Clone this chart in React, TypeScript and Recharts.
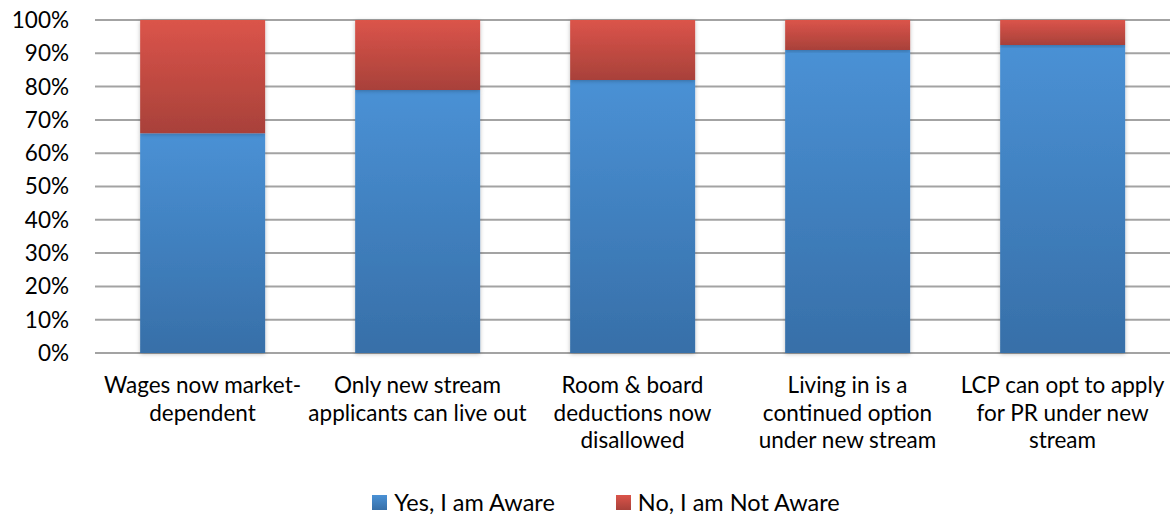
import React from 'react';
import { BarChart, Bar, XAxis, YAxis, CartesianGrid, Legend } from 'recharts';

const categories = [
  'Wages now market-\ndependent',
  'Only new stream\napplicants can live out',
  'Room & board\ndeductions now\ndisallowed',
  'Living in is a\ncontinued option\nunder new stream',
  'LCP can opt to apply\nfor PR under new\nstream',
];
const aware = [66, 79, 82, 91, 92.5];
const notAware = [34, 21, 18, 9, 7.5];
const yTicks = [0, 10, 20, 30, 40, 50, 60, 70, 80, 90, 100];
const seriesNames = ['Yes, I am Aware', 'No, I am Not Aware'];
const seriesFills = ['url(#blueGrad)', 'url(#redGrad)'];

const data = categories.map((name, i) => ({
  name,
  aware: aware[i],
  notAware: notAware[i],
}));

const FONT = 'Lato, "Open Sans", sans-serif';
const FS = 22.5;

const CategoryTick = ({ x, y, payload }: any) => {
  const lines = String(payload.value).split('\n');
  return (
    <text x={x} y={y} textAnchor="middle" fontFamily={FONT} fontSize={FS} fill="#000">
      {lines.map((line, i) => (
        <tspan key={i} x={x} dy={i === 0 ? 32 : 27.5}>
          {line}
        </tspan>
      ))}
    </text>
  );
};

const LegendContent = () => (
  <div
    style={{
      height: 63,
      boxSizing: 'border-box',
      paddingTop: 37,
      paddingLeft: 42,
      display: 'flex',
      justifyContent: 'center',
      fontFamily: FONT,
      fontSize: 23.5,
      color: '#000',
    }}
  >
    {seriesNames.map((n, i) => (
      <div
        key={n}
        style={{ display: 'flex', alignItems: 'center', height: 24, marginRight: i === 0 ? 61 : 0 }}
      >
        <svg width={15} height={15} style={{ marginRight: 7 }}>
          <rect width={15} height={15} fill={seriesFills[i]} />
        </svg>
        <span>{n}</span>
      </div>
    ))}
  </div>
);

export default function App() {
  return (
    <div style={{ position: 'absolute', left: 0, top: 0, background: '#fff' }}>
      <BarChart
        width={1170}
        height={516}
        data={data}
        margin={{ top: 20, right: 0, bottom: 0, left: 0 }}
        barCategoryGap="21%"
      >
        <defs>
          <linearGradient id="blueGrad" x1="0" y1="0" x2="0" y2="1">
            <stop offset="0%" stopColor="#4A91D5" />
            <stop offset="100%" stopColor="#376FA8" />
          </linearGradient>
          <linearGradient id="redGrad" x1="0" y1="0" x2="0" y2="1">
            <stop offset="0%" stopColor="#DB544A" />
            <stop offset="100%" stopColor="#A8413A" />
          </linearGradient>
          <filter id="barShadow" x="-10%" y="-10%" width="120%" height="120%">
            <feDropShadow dx="0" dy="1" stdDeviation="2" floodColor="#000" floodOpacity="0.25" />
          </filter>
        </defs>
        <CartesianGrid vertical={false} stroke="#a3a3a3" strokeWidth={2} />
        <XAxis
          dataKey="name"
          axisLine={false}
          tickLine={false}
          interval={0}
          height={100}
          tick={<CategoryTick />}
        />
        <YAxis
          domain={[0, 100]}
          ticks={yTicks}
          width={95}
          axisLine={false}
          tickLine={false}
          tickMargin={20}
          tickFormatter={(v) => `${v}%`}
          tick={{ fontFamily: FONT, fontSize: FS, fill: '#000' }}
        />
        <Legend verticalAlign="bottom" height={63} content={<LegendContent />} />
        <Bar
          dataKey="aware"
          name={seriesNames[0]}
          stackId="a"
          fill="url(#blueGrad)"
          filter="url(#barShadow)"
          isAnimationActive={false}
        />
        <Bar
          dataKey="notAware"
          name={seriesNames[1]}
          stackId="a"
          fill="url(#redGrad)"
          filter="url(#barShadow)"
          isAnimationActive={false}
        />
      </BarChart>
    </div>
  );
}
